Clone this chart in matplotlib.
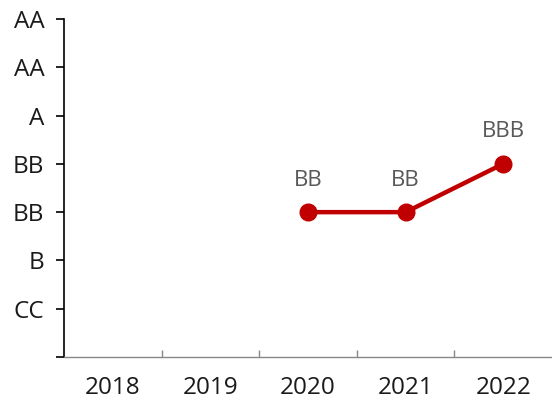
import matplotlib
matplotlib.use("Agg")
import matplotlib.pyplot as plt

years = ["2018", "2019", "2020", "2021", "2022"]
rating_levels = ["", "CC", "B", "BB", "BB", "A", "AA", "AA"]
series_x = [2, 3, 4]
series_y = [3, 3, 4]
series_labels = ["BB", "BB", "BBB"]

plt.rcParams['font.family'] = ['Open Sans', 'DejaVu Sans']

fig = plt.figure(figsize=(5.52, 4.05), dpi=100)
ax = fig.add_axes([64/552, 1-357/405, 488/552, (357-19)/405])

ax.plot(series_x, series_y, color="#C00000", lw=3.2, marker="o", ms=12, zorder=3, clip_on=False)
for x, y, t in zip(series_x, series_y, series_labels):
    ax.annotate(t, (x, y), xytext=(0, 23), textcoords="offset points",
                ha="center", va="center", fontsize=16, color="#595959")

ax.set_xlim(-0.5, 4.5)
ax.set_ylim(0, 7)
ax.set_yticks(range(8))
ax.set_yticklabels(rating_levels, fontsize=17.5, color="#1a1a1a")
ax.set_xticks(range(5))
ax.set_xticklabels(years, fontsize=17.5, color="#1a1a1a")
ax.tick_params(axis="x", length=0, pad=14)
ax.set_xticks([0.5, 1.5, 2.5, 3.5], minor=True)
ax.tick_params(axis="x", which="minor", direction="in", length=5, color="#888888", width=1)
ax.tick_params(axis="y", direction="out", length=6, color="black", width=1.2, pad=8)

for s in ["top", "right"]:
    ax.spines[s].set_visible(False)
ax.spines["left"].set_color("black")
ax.spines["left"].set_linewidth(1.2)
ax.spines["bottom"].set_color("#888888")
ax.spines["bottom"].set_linewidth(1)

fig.savefig("out.png", dpi=100)
